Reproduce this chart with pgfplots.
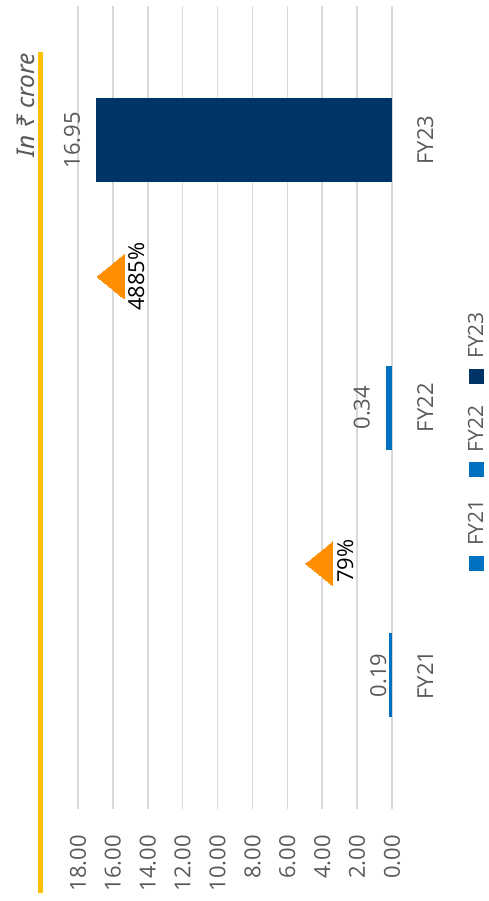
\documentclass[border=0pt]{standalone}
\usepackage{fontspec}
\setmainfont{Open Sans}
\newfontfamily\notofont{Noto Sans}
\usepackage{graphicx}
\usepackage{pgfplots}
\pgfplotsset{compat=1.18}
\definecolor{barblue}{HTML}{0070C0}
\definecolor{barnavy}{HTML}{003366}
\definecolor{triorange}{HTML}{FF8F00}
\definecolor{textgray}{HTML}{595959}
\definecolor{gridgray}{HTML}{D9D9D9}
\definecolor{lineyellow}{HTML}{FFC000}
\newcommand{\fs}{\fontsize{22bp}{26bp}\selectfont}
\begin{document}
\rotatebox{90}{%
\begin{tikzpicture}
\begin{axis}[
  at={(92bp,97bp)}, anchor=south west,
  scale only axis, width=802.5bp, height=314bp,
  clip=false,
  xmin=-0.5, xmax=2.5, ymin=0, ymax=18,
  ytick={0,2,...,18},
  xtick={0,1,2}, xticklabels={FY21,FY22,FY23},
  axis line style={draw=none},
  major tick length=0pt,
  tick style={draw=none},
  ymajorgrids, grid style={color=gridgray, line width=1.5bp},
  /pgf/number format/assume math mode=true,
  yticklabel style={/pgf/number format/fixed, /pgf/number format/fixed zerofill, /pgf/number format/precision=2},
  tick label style={font=\fs, text=textgray, inner sep=0pt},
  yticklabel style={anchor=east, xshift=-26bp},
  xticklabel style={anchor=north, yshift=-25bp},
  legend columns=3,
  legend style={at={(0.458,-0.268)}, anchor=center, draw=none, fill=none,
    inner sep=0pt, nodes={inner sep=0pt, font=\fontsize{21bp}{25bp}\selectfont, text=textgray},
    /tikz/every odd column/.append style={column sep=10bp},
    /tikz/every even column/.append style={column sep=22bp}},
  legend image code/.code={\fill[#1,draw=none] (0bp,-7.5bp) rectangle (15bp,7.5bp);},
]
\addplot[ybar, bar width=84bp, bar shift=0pt, fill=barblue, draw=none] coordinates {(0,0.19)};
\addlegendentry{FY21}
\addplot[ybar, bar width=84bp, bar shift=0pt, fill=barblue, draw=none] coordinates {(1,0.34)};
\addlegendentry{FY22}
\addplot[ybar, bar width=84bp, bar shift=0pt, fill=barnavy, draw=none] coordinates {(2,16.95)};
\addlegendentry{FY23}
\addplot[only marks, color=triorange, mark=triangle*, mark size=25.4bp, mark options={fill=triorange, draw=triorange, line width=0pt, yscale=0.71}, forget plot] coordinates {(0.417,3.90) (1.49,15.87)};
\node[anchor=south, inner sep=0pt, font=\fs, text=textgray] at (axis cs:0,0.19) [yshift=2bp] {0.19};
\node[anchor=south, inner sep=0pt, font=\fs, text=textgray] at (axis cs:1,0.34) [yshift=16bp] {0.34};
\node[anchor=south, inner sep=0pt, font=\fs, text=textgray] at (axis cs:2,16.95) [yshift=16bp] {16.95};
\node[anchor=north, inner sep=0pt, font=\fs, text=black] at (axis cs:0.426,3.15) {79\%};
\node[anchor=north, inner sep=0pt, font=\fs, text=black] at (axis cs:1.49,15.13) {4885\%};
\end{axis}
\draw[line width=5bp, color=lineyellow] (8bp,448.5bp) -- (849bp,448.5bp);
\node[anchor=base east, inner sep=0pt, font=\notofont\itshape\fontsize{24.5bp}{28bp}\selectfont, text=textgray] at (848bp,454bp) {In ₹ crore};
\pgfresetboundingbox
\path[use as bounding box] (0,0) rectangle (901bp,489bp);
\end{tikzpicture}}
\end{document}
